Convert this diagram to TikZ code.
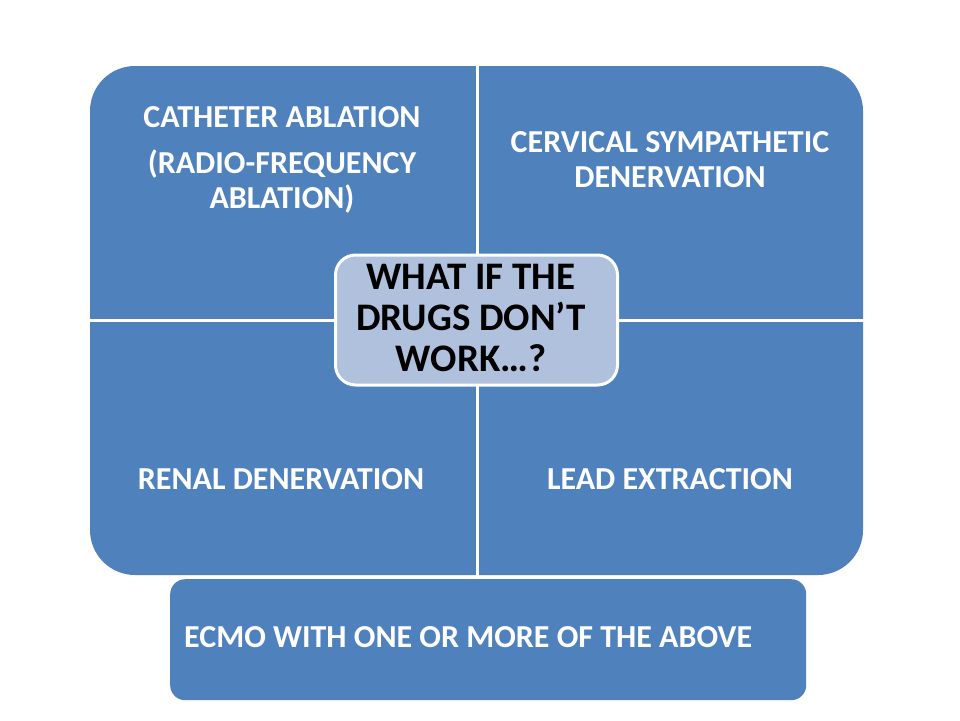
\documentclass[tikz,border=0pt]{standalone}
\usepackage{fontspec}
\setmainfont{Carlito}
\begin{document}
\begin{tikzpicture}[x=1pt,y=-1pt,
  quad/.style={fill=mainblue,draw=none},
  wtxt/.style={text=white,font=\fontsize{32}{35}\selectfont\bfseries,align=center,inner sep=0pt},
  ctxt/.style={text=black,font=\fontsize{39}{41}\selectfont\bfseries,align=center,inner sep=0pt}]
\definecolor{mainblue}{HTML}{4F81BD}
\definecolor{lightblue}{HTML}{B0C1DE}
\useasboundingbox (0,0) rectangle (960,720);
\fill[white] (0,0) rectangle (960,720);
% quadrants
\fill[mainblue] (90,320) -- (90,111) arc[start angle=180,end angle=270,radius=45] -- (477,66) -- (477,320) -- cycle;
\fill[mainblue] (477,66) -- (818,66) arc[start angle=270,end angle=360,radius=45] -- (863,320) -- (477,320) -- cycle;
\fill[mainblue] (90,320) -- (90,530) arc[start angle=180,end angle=90,radius=45] -- (477,575) -- (477,320) -- cycle;
\fill[mainblue] (477,320) -- (863,320) -- (863,530) arc[start angle=0,end angle=90,radius=45] -- (477,575) -- cycle;
\draw[white,line width=3] (477,60) -- (477,580);
\draw[white,line width=3] (85,320) -- (868,320);
% bottom box
\node[quad,rounded corners=15,minimum width=636,minimum height=121,anchor=north west,inner sep=0pt] (ecmo) at (170,579) {};
\node[wtxt,anchor=west] (ecmot) at (184,637) {ECMO WITH ONE OR MORE OF THE ABOVE};
% center box
\node[fill=lightblue,draw=white,line width=3,rounded corners=20,minimum width=282,minimum height=130,inner sep=0pt] (center) at (476.5,320) {};
\node[ctxt] (ct) at (471,318) {WHAT IF THE\\DRUGS DON’T\\WORK…?};
% quadrant texts
\node[wtxt] (q1a) at (282,117) {CATHETER ABLATION};
\node[wtxt] (q1b) at (282,182) {(RADIO-FREQUENCY\\ABLATION)};
\node[wtxt] (q2) at (670,160) {CERVICAL SYMPATHETIC\\DENERVATION};
\node[wtxt] (q3) at (281,479) {RENAL DENERVATION};
\node[wtxt] (q4) at (670,479) {LEAD EXTRACTION};
\end{tikzpicture}
\end{document}
